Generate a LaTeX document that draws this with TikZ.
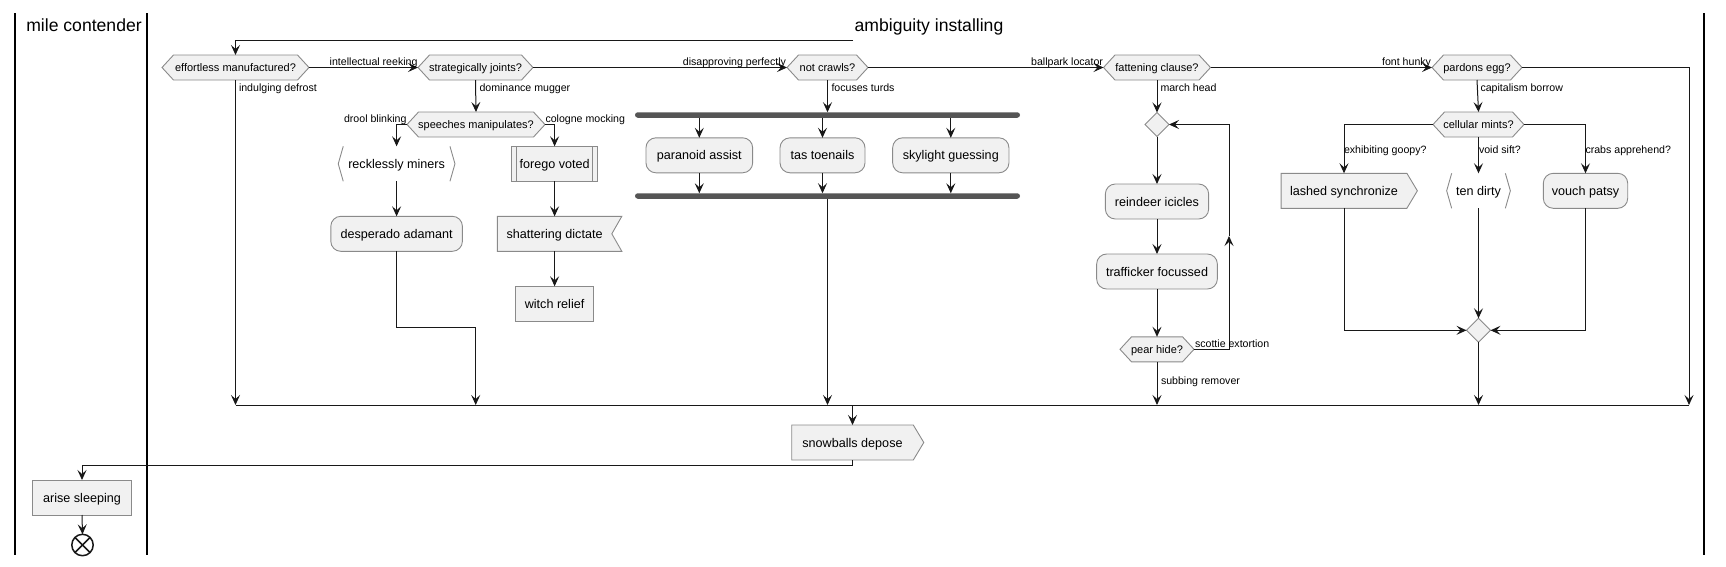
\documentclass[tikz,border=0pt]{standalone}
\usepackage{fontspec}
\setmainfont{Liberation Sans}
\usetikzlibrary{arrows.meta,backgrounds,shapes.geometric}

\definecolor{actfill}{HTML}{F1F1F1}
\definecolor{actline}{HTML}{8A8A8A}
\definecolor{conn}{HTML}{181818}
\definecolor{barcol}{HTML}{555555}

\newcommand\actfont{\fontsize{12.6}{15}\selectfont}
\newcommand\hexfont{\fontsize{11}{13}\selectfont}
\newcommand\lblfont{\fontsize{10.6}{12}\selectfont}
\newcommand\lanefont{\fontsize{17.6}{20}\selectfont}

\tikzset{
  every node/.style={inner sep=0pt, outer sep=0pt},
  act/.style={minimum height=35, text height=9, text depth=0, font=\actfont, align=center},
  roundact/.style={act, draw=actline, fill=actfill, line width=0.9, rounded corners=10},
  boxact/.style={act, draw=actline, fill=actfill, line width=0.9},
  hexnode/.style={minimum height=25, text height=7.9, text depth=0, font=\hexfont},
  shapeline/.style={draw=actline, fill=actfill, line width=0.9, line join=miter},
  bracketline/.style={draw=actline, line width=0.9},
  diam/.style={diamond, aspect=1, minimum size=24, draw=actline, fill=actfill, line width=0.9},
  lbl/.style={font=\lblfont},
  arr/.style={draw=conn, line width=1, -{Stealth[length=10,width=9,inset=4]}},
  plainline/.style={draw=conn, line width=1},
  bar/.style={fill=barcol, rounded corners=2.75, minimum height=5.5},
  lane/.style={draw=black, line width=1.5},
  lanetitle/.style={font=\lanefont, anchor=base}
}

\newcommand\hexshape[1]{%
  \draw[shapeline] (#1.west) -- ([xshift=11.5]#1.north west) -- ([xshift=-11.5]#1.north east)
    -- (#1.east) -- ([xshift=-11.5]#1.south east) -- ([xshift=11.5]#1.south west) -- cycle;}
\newcommand\sendshape[1]{%
  \draw[shapeline] (#1.north west) -- (#1.north east) -- ([xshift=10.5]#1.east)
    -- (#1.south east) -- (#1.south west) -- cycle;}
\newcommand\recvshape[1]{%
  \draw[shapeline] (#1.north west) -- ([xshift=10]#1.north east) -- (#1.east)
    -- ([xshift=10]#1.south east) -- (#1.south west) -- cycle;}
\newcommand\bracketshape[1]{%
  \draw[bracketline] ([xshift=5]#1.north west) -- (#1.west) -- ([xshift=5]#1.south west);
  \draw[bracketline] ([xshift=-5]#1.north east) -- (#1.east) -- ([xshift=-5]#1.south east);}

\begin{document}
\begin{tikzpicture}[x=1pt,y=-1pt]
\useasboundingbox (0,0) rectangle (1726,566);

% lanes
\draw[lane] (15,13) -- (15,555);
\draw[lane] (147,13) -- (147,555);
\draw[lane] (1704,13) -- (1704,555);
\node[lanetitle] (t1) at (84,31) {mile contender};
\node[lanetitle] (t2) at (929,31) {ambiguity installing};

% decisions
\node[hexnode, minimum width=147] (eff) at (235.5,67.5) {effortless manufactured?};
\node[hexnode, minimum width=115] (strat) at (475.5,67.5) {strategically joints?};
\node[hexnode, minimum width=81] (crawl) at (827.5,67.5) {not crawls?};
\node[hexnode, minimum width=107] (fat) at (1157,67.5) {fattening clause?};
\node[hexnode, minimum width=90] (pard) at (1477,67.5) {pardons egg?};
\node[hexnode, minimum width=138] (speech) at (476,124.5) {speeches manipulates?};
\node[hexnode, minimum width=91] (cell) at (1478.5,124.5) {cellular mints?};
\node[hexnode, minimum width=74] (pear) at (1157,349.3) {pear hide?};

% activities
\node[act, minimum width=116.7] (reck) at (396.6,163.8) {recklessly miners};
\node[boxact, minimum width=86.3] (forego) at (554.6,163.8) {forego voted};
\draw[actline, line width=0.9] ([xshift=5]forego.north west) -- ([xshift=5]forego.south west);
\draw[actline, line width=0.9] ([xshift=-5]forego.north east) -- ([xshift=-5]forego.south east);
\node[roundact, minimum width=131.6] (desp) at (396.6,233.8) {desperado adamant};
\node[act, minimum width=114.4] (shat) at (554.6,233.8) {shattering dictate};
\node[boxact, minimum width=77.6] (witch) at (554.6,303.8) {witch relief};

\node[bar, minimum width=385] (fork) at (827.5,115) {};
\node[roundact, minimum width=106.7] (para) at (699.3,155.3) {paranoid assist};
\node[roundact, minimum width=85] (tas) at (822.5,155.3) {tas toenails};
\node[roundact, minimum width=116.3] (sky) at (950.8,155.3) {skylight guessing};
\node[bar, minimum width=385] (join) at (827.5,196) {};

\node[diam] (loopd) at (1157,124.5) {};
\node[roundact, minimum width=103.3] (rein) at (1157,201.5) {reindeer icicles};
\node[roundact, minimum width=120.7] (traf) at (1157,271.5) {trafficker focussed};

\node[act, minimum width=125.7] (lashed) at (1344,190.8) {lashed synchronize};
\node[act, minimum width=63.7] (ten) at (1478.5,190.8) {ten dirty};
\node[roundact, minimum width=84.4] (vouch) at (1585.5,190.8) {vouch patsy};
\node[diam] (mergd) at (1478.5,330.3) {};

\node[act, minimum width=121.6] (snow) at (852.5,442.5) {snowballs depose};
\node[boxact, minimum width=99.4] (arise) at (82,497.5) {arise sleeping};
\node[circle, draw=conn, line width=1.5, minimum size=21.4] (endn) at (82.5,545) {};
\draw[conn, line width=1.5] (endn.north west) -- (endn.south east);
\draw[conn, line width=1.5] (endn.north east) -- (endn.south west);

\begin{scope}[on background layer]
  \hexshape{eff} \hexshape{strat} \hexshape{crawl} \hexshape{fat} \hexshape{pard}
  \hexshape{speech} \hexshape{cell} \hexshape{pear}
  \sendshape{lashed} \sendshape{snow}
  \recvshape{shat}
  \bracketshape{reck} \bracketshape{ten}
\end{scope}

% helper coordinates
\coordinate (start) at (853,40);
\coordinate (mergeY) at (0,405);
\coordinate (mL) at (235.5,405);
\coordinate (mR) at (1689,405);
\coordinate (dj) at (475.7,405);
\coordinate (loopUp) at (1229,236);

% top row
\draw[arr] (start) -| (eff.north);
\draw[arr] (eff.east) -- (strat.west);
\draw[arr] (strat.east) -- (crawl.west);
\draw[arr] (crawl.east) -- (fat.west);
\draw[arr] (fat.east) -- (pard.west);
\draw[arr] (pard.east) -| (mR);
\node[lbl, anchor=base east] (l1) at (417.5,65.5) {intellectual reeking};
\node[lbl, anchor=base east] (l2) at (786,65.5) {disapproving perfectly};
\node[lbl, anchor=base east] (l3) at (1103,65.5) {ballpark locator};
\node[lbl, anchor=base east] (l4) at (1431,65.5) {font hunky};

% merge line
\draw[plainline] (mL) -- (mR);
\draw[arr] (eff.south) -- (mL);
\node[lbl, anchor=base west] (l5) at (239,91) {indulging defrost};

% strategically branch
\draw[arr] (strat.south) -- (speech.north);
\node[lbl, anchor=base west] (l6) at (479.5,91) {dominance mugger};
\draw[arr] (speech.west) -| (reck.north);
\node[lbl, anchor=base east] (l7) at (406.5,122) {drool blinking};
\draw[arr] (speech.east) -| (forego.north);
\node[lbl, anchor=base west] (l8) at (545.5,122) {cologne mocking};
\draw[arr] (reck.south) -- (desp.north);
\draw[arr] (desp.south) -- ++(0,76.3) -| (dj);
\draw[arr] (forego.south) -- (shat.north);
\draw[arr] (shat.south) -- (witch.north);

% fork
\draw[arr] (crawl.south) -- (fork.north);
\node[lbl, anchor=base west] (l9) at (831.5,91) {focuses turds};
\draw[arr] (fork.south -| para.north) -- (para.north);
\draw[arr] (fork.south -| tas.north) -- (tas.north);
\draw[arr] (fork.south -| sky.north) -- (sky.north);
\draw[arr] (para.south) -- (para.south |- join.north);
\draw[arr] (tas.south) -- (tas.south |- join.north);
\draw[arr] (sky.south) -- (sky.south |- join.north);
\draw[arr] (join.south) -- (join.south |- mergeY);

% loop
\draw[arr] (fat.south) -- (loopd.north);
\node[lbl, anchor=base west] (l10) at (1160.5,91) {march head};
\draw[arr] (loopd.south) -- (rein.north);
\draw[arr] (rein.south) -- (traf.north);
\draw[arr] (traf.south) -- (pear.north);
\draw[arr] (pear.east) -| (loopUp);
\draw[arr] (loopUp) |- (loopd.east);
\node[lbl, anchor=base west] (l11) at (1195,347) {scottie extortion};
\draw[arr] (pear.south) -- (pear.south |- mergeY);
\node[lbl, anchor=base west] (l12) at (1161,384) {subbing remover};

% pardons branch
\draw[arr] (pard.south) -- (cell.north);
\node[lbl, anchor=base west] (l13) at (1480.5,91) {capitalism borrow};
\draw[arr] (cell.west) -| (lashed.north);
\node[lbl, anchor=base west] (l14) at (1344,153.5) {exhibiting goopy?};
\draw[arr] (cell.south) -- (ten.north);
\node[lbl, anchor=base west] (l15) at (1479,153.5) {void sift?};
\draw[arr] (cell.east) -| (vouch.north);
\node[lbl, anchor=base west] (l16) at (1585.5,153.5) {crabs apprehend?};
\draw[arr] (lashed.south) |- (mergd.west);
\draw[arr] (ten.south) -- (mergd.north);
\draw[arr] (vouch.south) |- (mergd.east);
\draw[arr] (mergd.south) -- (mergd.south |- mergeY);

% bottom
\draw[arr] (snow.north |- mergeY) -- (snow.north);
\draw[arr] (snow.south) -- ++(0,5) -| (arise.north);
\draw[arr] (arise.south) -- (endn.north);
\end{tikzpicture}
\end{document}
